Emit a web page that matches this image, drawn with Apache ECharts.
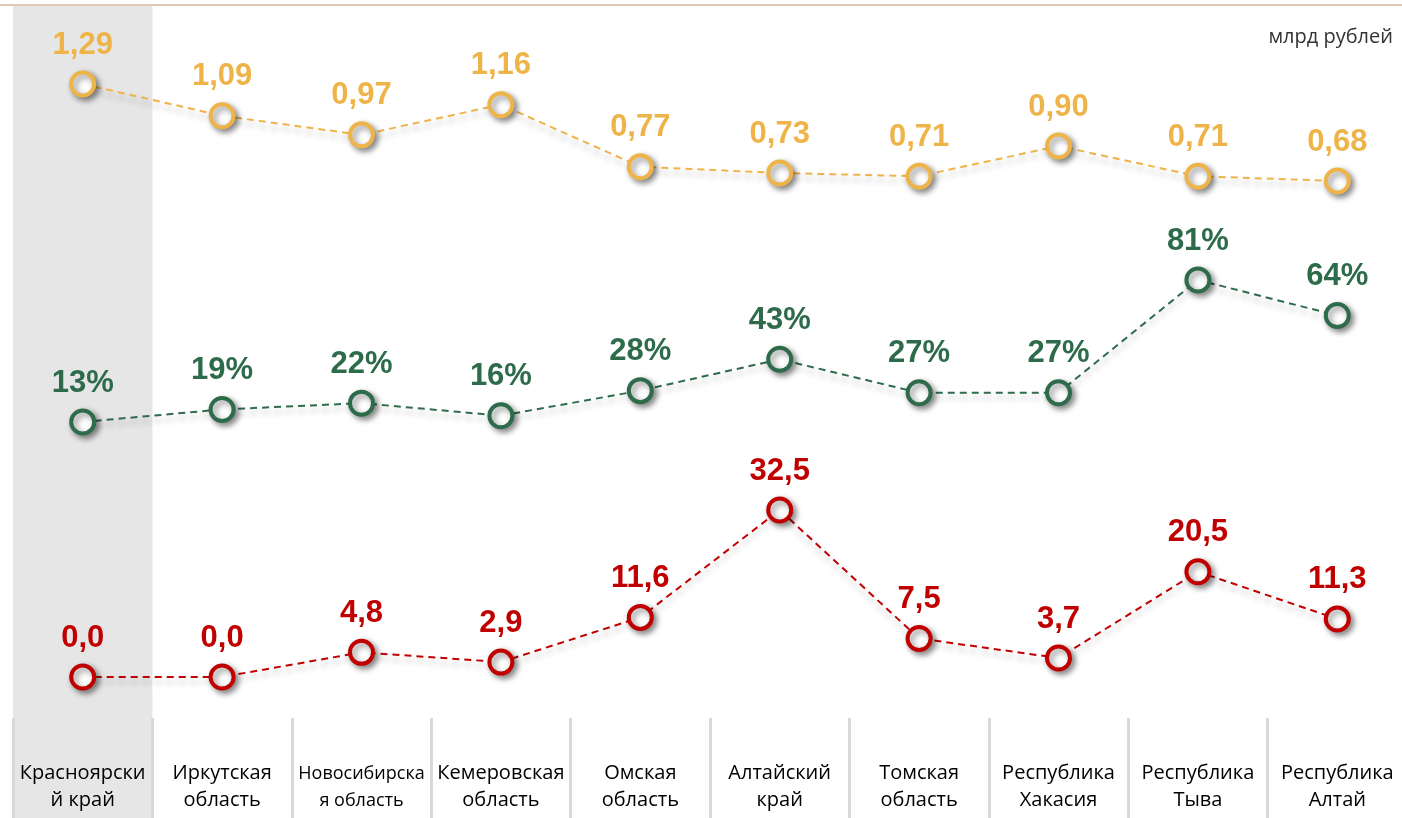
<!DOCTYPE html>
<html>
<head>
<meta charset="utf-8">
<title>Регионы</title>
<style>
  html, body { margin: 0; padding: 0; background: #fff; }
  #main { width: 1402px; height: 818px; }
</style>
</head>
<body>
<div id="main"></div>
<script src="https://cdn.jsdelivr.net/npm/echarts@6/dist/echarts.min.js"></script>
<script>
// регионы
var regions = ['Красноярски\nй край', 'Иркутская\nобласть', 'Новосибирска\nя область', 'Кемеровская\nобласть',
  'Омская\nобласть', 'Алтайский\nкрай', 'Томская\nобласть', 'Республика\nХакасия', 'Республика\nТыва', 'Республика\nАлтай'];

var sumValues = [1.29, 1.09, 0.97, 1.16, 0.77, 0.73, 0.71, 0.90, 0.71, 0.68];   // млрд рублей
var shareValues = [13, 19, 22, 16, 28, 43, 27, 27, 81, 64];                       // %
var redValues = [0.0, 0.0, 4.8, 2.9, 11.6, 32.5, 7.5, 3.7, 20.5, 11.3];

var yellow = '#eeb449';
var green = '#2e6b4b';
var red = '#c00000';

var gridLeft = 13, gridWidth = 1394;

var catData = regions.map(function (r, i) {
  if (i === 2) return { value: r, textStyle: { fontSize: 18 } };
  return r;
});

function makeGrid(top, height) {
  return { left: gridLeft, width: gridWidth, top: top, height: height, outerBoundsMode: 'none', containLabel: false };
}
function hiddenX(idx) {
  return {
    type: 'category', gridIndex: idx, data: regions, boundaryGap: true,
    axisLine: { show: false }, axisTick: { show: false }, axisLabel: { show: false }, splitLine: { show: false }
  };
}
function hiddenY(idx, min, max) {
  return {
    type: 'value', gridIndex: idx, min: min, max: max,
    axisLine: { show: false }, axisTick: { show: false }, axisLabel: { show: false }, splitLine: { show: false }
  };
}
function lineSeries(idx, data, color, fmt) {
  return {
    type: 'line', xAxisIndex: idx, yAxisIndex: idx, data: data, clip: false,
    symbol: 'circle', symbolSize: 23,
    itemStyle: {
      color: '#fff', borderColor: color, borderWidth: 4,
      shadowBlur: 6, shadowColor: 'rgba(0,0,0,0.45)', shadowOffsetX: 3, shadowOffsetY: 3
    },
    lineStyle: {
      color: color, width: 2, type: [7, 5],
      shadowBlur: 6, shadowColor: 'rgba(0,0,0,0.3)', shadowOffsetY: 5
    },
    label: {
      show: true, position: 'top', distance: 10,
      color: color, fontSize: 31, fontWeight: 'bold', fontFamily: 'Liberation Sans, Arial, sans-serif',
      formatter: function (p) { return fmt(p.value); }
    },
    emphasis: { disabled: true },
    z: 5
  };
}

var myChart = echarts.init(document.getElementById('main'));
myChart.setOption({
  animation: false,
  title: {
    text: 'млрд рублей', right: 4, top: 22,
    textStyle: { fontSize: 20, fontWeight: 'normal', color: '#333', fontFamily: 'Open Sans, sans-serif' }
  },
  graphic: [{
    type: 'line', shape: { x1: 0, y1: 5, x2: 1402, y2: 5 },
    style: { stroke: '#dccbb0', lineWidth: 2 }, z: 10
  }],
  grid: [
    makeGrid(5, 813),          // фон
    makeGrid(718, 100),        // подписи
    makeGrid(66.5, 127.2),     // млрд рублей
    makeGrid(240.3, 208.8),    // %
    makeGrid(471.5, 205.5)     // красная
  ],
  xAxis: [
    {
      type: 'category', gridIndex: 0, data: regions, boundaryGap: true,
      axisLine: { show: false }, axisTick: { show: false }, axisLabel: { show: false }, splitLine: { show: false },
      splitArea: { show: true, areaStyle: { color: ['#e6e6e6', 'rgba(0,0,0,0)', 'rgba(0,0,0,0)', 'rgba(0,0,0,0)', 'rgba(0,0,0,0)',
        'rgba(0,0,0,0)', 'rgba(0,0,0,0)', 'rgba(0,0,0,0)', 'rgba(0,0,0,0)', 'rgba(0,0,0,0)'] } }
    },
    {
      type: 'category', gridIndex: 1, data: catData, boundaryGap: true,
      axisLine: { show: false }, axisTick: { show: false },
      splitLine: { show: true, lineStyle: { color: '#d9d9d9', width: 3 } },
      axisLabel: {
        inside: true, margin: 4, interval: 0, color: '#000', fontSize: 20, lineHeight: 27,
        fontFamily: 'Open Sans, sans-serif'
      }
    },
    hiddenX(2), hiddenX(3), hiddenX(4)
  ],
  yAxis: [
    hiddenY(0, 0, 1), hiddenY(1, 0, 1),
    hiddenY(2, 0.6, 1.4),
    hiddenY(3, 0, 100),
    hiddenY(4, 0, 40)
  ],
  series: [
    lineSeries(2, sumValues, yellow, function (v) { return v.toFixed(2).replace('.', ','); }),
    lineSeries(3, shareValues, green, function (v) { return v + '%'; }),
    lineSeries(4, redValues, red, function (v) { return v.toFixed(1).replace('.', ','); })
  ]
});
</script>
</body>
</html>
